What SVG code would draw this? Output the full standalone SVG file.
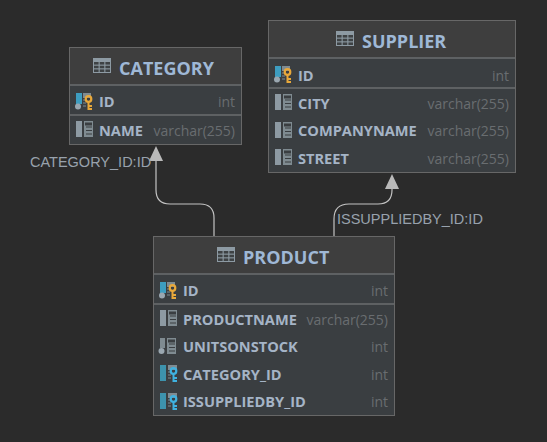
<svg xmlns="http://www.w3.org/2000/svg" width="547" height="442" viewBox="0 0 547 442">
<style>
text{font-family:"Open Sans","Noto Sans","DejaVu Sans",sans-serif}
.box{fill:#3a3e41;stroke:#676767;stroke-width:1}
.head{fill:#3e3e3e}
.sep{stroke:#5e6163;stroke-width:2}
.title{font-size:18px;font-weight:700;fill:#9fb8d6}
.col{font-size:14.6px;font-weight:700;fill:#a5b4c6}
.type{font-size:14px;fill:#696d70;text-anchor:end}
.lbl{font-family:"Liberation Sans",Arial,sans-serif;font-size:14.5px;fill:#98a2ad}
.wire{fill:none;stroke:#c4c4c4;stroke-width:1.2}
.head-arrow{fill:#b9b9b9}
</style>
<defs>
<g id="table"><rect x="0" y="0" width="18" height="15" fill="#8d9aa3"/><g fill="#3e4244"><rect x="1" y="4" width="4.6" height="2.6"/><rect x="6.7" y="4" width="4.6" height="2.6"/><rect x="12.4" y="4" width="4.6" height="2.6"/><rect x="1" y="7.7" width="4.6" height="2.6"/><rect x="6.7" y="7.7" width="4.6" height="2.6"/><rect x="12.4" y="7.7" width="4.6" height="2.6"/><rect x="1" y="11.4" width="4.6" height="2.6"/><rect x="6.7" y="11.4" width="4.6" height="2.6"/><rect x="12.4" y="11.4" width="4.6" height="2.6"/></g></g>
<g id="colbase"><rect x="8" y="0" width="9" height="16" fill="#7f8b91"/><g fill="#3a3e41"><rect x="9" y="1.5" width="7" height="3"/><rect x="10" y="5.5" width="6" height="1"/><rect x="10" y="9" width="6" height="1"/><rect x="10" y="12.5" width="6" height="1"/></g></g>
<g id="col"><rect x="0" y="0" width="6" height="16" fill="#8d9aa3"/><use href="#colbase"/></g>
<g id="colnn"><rect x="1" y="0" width="5" height="10" fill="#7f8b91"/><circle cx="2.5" cy="13" r="3" fill="#9aa7b0"/><use href="#colbase"/></g>
<g id="key-y" fill="none" stroke="#e8a83a"><circle cx="13.5" cy="6" r="2.8" stroke-width="2.2"/><path d="M13.5 9V17M13.5 13H17M13.5 16H17" stroke-width="2"/></g>
<g id="key-b" fill="none" stroke="#3fb2e0"><circle cx="13.5" cy="6" r="2.8" stroke-width="2.2"/><path d="M13.5 9V17M13.5 13H17M13.5 16H17" stroke-width="2"/></g>
<g id="pk"><rect x="1" y="0" width="6" height="11" fill="#3d9dc0"/><circle cx="3" cy="13.5" r="3" fill="#9aa7b0"/><rect x="8" y="0" width="8" height="5" fill="#7f8b91"/><path d="M8 7h3M8 10h3M8 13h3" stroke="#7f8b91" stroke-width="1"/><use href="#key-y"/></g>
<g id="fk"><rect x="0" y="0" width="6" height="16" fill="#3d93ad"/><rect x="8" y="0" width="9" height="5" fill="#7f8b91"/><path d="M8 7h3M8 10h3M8 13h3" stroke="#7f8b91" stroke-width="1"/><use href="#key-b"/></g>
</defs>
<rect width="547" height="442" fill="#2b2b2b"/>
<g id="connectors">
<path class="wire" d="M214 236V218Q214 204 200 204H170Q156 204 156 190V160"/>
<path class="head-arrow" d="M156 146L149 161H163Z"/>
<path class="wire" d="M334 236V219Q334 204 349 204H378Q392 204 392 190V186"/>
<path class="head-arrow" d="M392 174L385 189H399Z"/>
<text class="lbl" x="30" y="167">CATEGORY_ID:ID</text>
<text class="lbl" x="337" y="224">ISSUPPLIEDBY_ID:ID</text>
</g>
<g id="category">
<rect class="box" x="69.5" y="47.5" width="172" height="97"/>
<rect class="head" x="70" y="48" width="171" height="36"/>
<line class="sep" x1="70" x2="241" y1="85" y2="85"/>
<line class="sep" x1="70" x2="241" y1="115" y2="115"/>
<use href="#table" x="93" y="58"/>
<text class="title" x="119" y="75">CATEGORY</text>
<use href="#pk" x="75" y="93"/>
<text class="col" x="99" y="107">ID</text>
<text class="type" x="235" y="107">int</text>
<use href="#col" x="76" y="121"/>
<text class="col" x="99" y="136">NAME</text>
<text class="type" x="235" y="136">varchar(255)</text>
</g>
<g id="supplier">
<rect class="box" x="268.5" y="20.5" width="247" height="152"/>
<rect class="head" x="269" y="21" width="246" height="37"/>
<line class="sep" x1="269" x2="515" y1="58" y2="58"/>
<line class="sep" x1="269" x2="515" y1="88" y2="88"/>
<use href="#table" x="336" y="31"/>
<text class="title" x="362" y="48">SUPPLIER</text>
<use href="#pk" x="274" y="66"/>
<text class="col" x="298" y="81">ID</text>
<text class="type" x="509" y="81">int</text>
<use href="#col" x="275" y="94"/>
<text class="col" x="298" y="109">CITY</text>
<text class="type" x="509" y="109">varchar(255)</text>
<use href="#col" x="275" y="122"/>
<text class="col" x="298" y="136">COMPANYNAME</text>
<text class="type" x="509" y="136">varchar(255)</text>
<use href="#col" x="275" y="149"/>
<text class="col" x="298" y="164">STREET</text>
<text class="type" x="509" y="164">varchar(255)</text>
</g>
<g id="product">
<rect class="box" x="153.5" y="236.5" width="241" height="179"/>
<rect class="head" x="154" y="237" width="240" height="37"/>
<line class="sep" x1="154" x2="394" y1="274" y2="274"/>
<line class="sep" x1="154" x2="394" y1="304" y2="304"/>
<use href="#table" x="217" y="247"/>
<text class="title" x="243" y="264">PRODUCT</text>
<use href="#pk" x="159" y="282"/>
<text class="col" x="183" y="296">ID</text>
<text class="type" x="388" y="296">int</text>
<use href="#col" x="160" y="310"/>
<text class="col" x="183" y="325">PRODUCTNAME</text>
<text class="type" x="388" y="325">varchar(255)</text>
<use href="#colnn" x="159" y="338"/>
<text class="col" x="183" y="352">UNITSONSTOCK</text>
<text class="type" x="388" y="352">int</text>
<use href="#fk" x="160" y="365"/>
<text class="col" x="183" y="380">CATEGORY_ID</text>
<text class="type" x="388" y="380">int</text>
<use href="#fk" x="160" y="393"/>
<text class="col" x="183" y="407">ISSUPPLIEDBY_ID</text>
<text class="type" x="388" y="407">int</text>
</g>
</svg>
